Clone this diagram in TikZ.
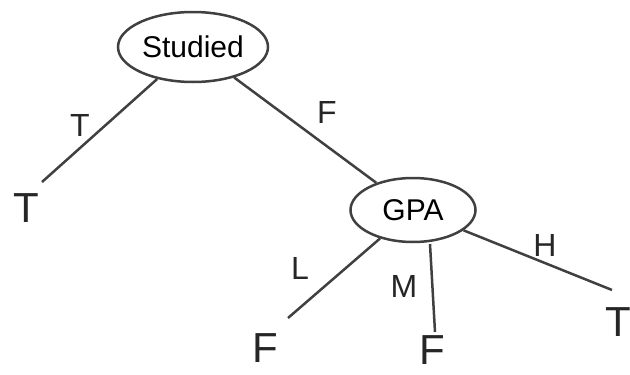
\documentclass[tikz,border=0pt]{standalone}
\usepackage{fontspec}
\setmainfont{Liberation Sans}
\usetikzlibrary{shapes.geometric}
\begin{document}
\begin{tikzpicture}[x=1pt,y=-1pt,
  pen/.style={draw=black!75,line width=2.5pt},
  leaf/.style={font=\fontsize{42}{42}\selectfont,text=black!85,anchor=base,inner sep=0pt},
  lbl/.style={font=\fontsize{32}{32}\selectfont,text=black!85,inner sep=0pt}]
\useasboundingbox (0,0) rectangle (630,375);
\node[ellipse,pen,minimum width=150pt,minimum height=70pt,inner sep=0pt,font=\fontsize{30}{30}\selectfont] (studied) at (193,47) {Studied};
\node[ellipse,pen,minimum width=125pt,minimum height=64pt,inner sep=0pt,font=\fontsize{30}{30}\selectfont] (gpa) at (413,210) {GPA};
\node[leaf] (t1) at (26,222) {T};
\node[leaf] (f1) at (265,362) {F};
\node[leaf] (f2) at (432,364) {F};
\node[leaf] (t2) at (618,336) {T};
\coordinate (t1e) at (42,182);
\coordinate (f1e) at (288,318);
\coordinate (f2e) at (435,332);
\coordinate (t2e) at (612,290);
\coordinate (ms) at (430,244);
\draw[pen] (studied) -- (t1e);
\draw[pen] (studied) -- (gpa);
\draw[pen] (gpa) -- (f1e);
\draw[pen] (ms) -- (f2e);
\draw[pen] (gpa) -- (t2e);
\node[lbl] (lt) at (80,125) {T};
\node[lbl] (lf) at (327,112) {F};
\node[lbl] (ll) at (300,268) {L};
\node[lbl] (lm) at (404,286) {M};
\node[lbl] (lh) at (545,245) {H};
\end{tikzpicture}
\end{document}
